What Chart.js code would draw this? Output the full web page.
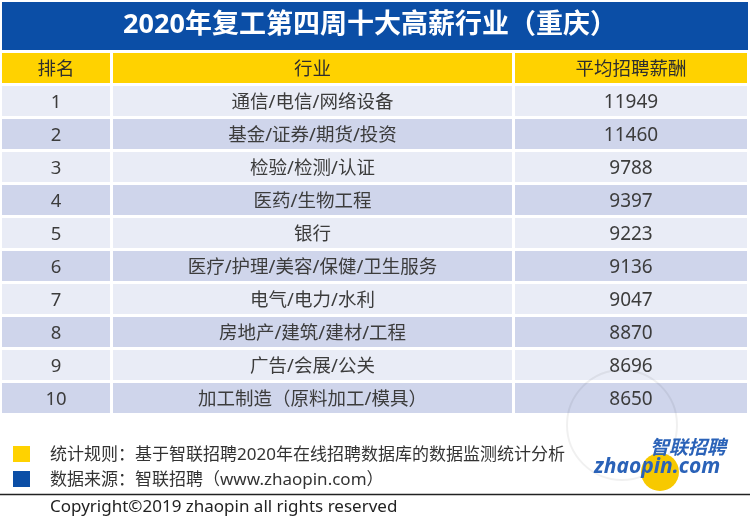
<!DOCTYPE html>
<html>
<head>
<meta charset="utf-8">
<script src="https://cdn.jsdelivr.net/npm/chart.js@4"></script>
<style>
  html, body { margin: 0; padding: 0; background: #fff; }
  #wrap { width: 750px; height: 524px; }
</style>
</head>
<body>
<div id="wrap"><canvas id="tbl"></canvas></div>
<script>
// 表格数据
const titleText = '2020年复工第四周十大高薪行业（重庆）';
const headers = ['排名', '行业', '平均招聘薪酬'];
const ranks = ['1', '2', '3', '4', '5', '6', '7', '8', '9', '10'];
const industries = ['通信/电信/网络设备', '基金/证券/期货/投资', '检验/检测/认证', '医药/生物工程', '银行',
    '医疗/护理/美容/保健/卫生服务', '电气/电力/水利', '房地产/建筑/建材/工程', '广告/会展/公关', '加工制造（原料加工/模具）'];
const salaries = [11949, 11460, 9788, 9397, 9223, 9136, 9047, 8870, 8696, 8650];
const notes = ['统计规则：基于智联招聘2020年在线招聘数据库的数据监测统计分析', '数据来源：智联招聘（www.zhaopin.com）'];
const copyright = 'Copyright©2019 zhaopin all rights reserved';

// 列的边界 (x 轴单位)
const colEdges = [[0, 108], [111, 510], [513, 745]];
const rowLabels = ['header'].concat(ranks);

const BLUE = '#0b4ea6';
const YELLOW = '#ffd200';
const FONT = '"Noto Sans", "Noto Sans CJK SC", sans-serif';

function rowColor(i) {
    if (i === 0) return YELLOW;
    return i % 2 === 1 ? '#e9ecf6' : '#cfd5eb';
}

const columns = [
    [headers[0]].concat(ranks),
    [headers[1]].concat(industries),
    [headers[2]].concat(salaries.map(String))
];

const datasets = colEdges.map((edge, c) => ({
    label: headers[c],
    data: rowLabels.map(() => edge),
    backgroundColor: rowLabels.map((_, i) => rowColor(i)),
    borderWidth: 0,
    grouped: false,
    barPercentage: 30 / 33,
    categoryPercentage: 1
}));

// 标题、单元格文字和页脚
const tablePlugin = {
    id: 'tableText',
    beforeDraw(chart) {
        const ctx = chart.ctx;
        ctx.save();
        ctx.fillStyle = BLUE;
        ctx.fillRect(2, 2, 746, 48);
        ctx.fillStyle = '#fff';
        ctx.font = 'bold 27px ' + FONT;
        ctx.textAlign = 'center';
        ctx.textBaseline = 'middle';
        ctx.fillText(titleText, 370, 25);
        ctx.restore();
    },
    afterDatasetsDraw(chart) {
        const ctx = chart.ctx;
        ctx.save();
        ctx.textAlign = 'center';
        ctx.textBaseline = 'middle';
        chart.data.datasets.forEach((ds, c) => {
            const meta = chart.getDatasetMeta(c);
            meta.data.forEach((bar, i) => {
                ctx.fillStyle = i === 0 ? '#2e2e2e' : '#3c3c3c';
                ctx.font = (c === 2 && i > 0 ? '19px ' : '18.5px ') + FONT;
                ctx.fillText(columns[c][i], (bar.x + bar.base) / 2, bar.y + 2);
            });
        });

        // 页脚
        ctx.fillStyle = YELLOW;
        ctx.fillRect(13, 446, 17, 16);
        ctx.fillStyle = BLUE;
        ctx.fillRect(13, 471, 17, 16);
        ctx.textAlign = 'left';
        ctx.fillStyle = '#333';
        ctx.font = '17px ' + FONT;
        ctx.fillText(notes[0], 50, 455);
        ctx.fillText(notes[1], 50, 480);

        ctx.strokeStyle = '#222';
        ctx.lineWidth = 1.5;
        ctx.beginPath();
        ctx.moveTo(0, 494.5);
        ctx.lineTo(750, 494.5);
        ctx.stroke();
        ctx.fillStyle = '#222';
        ctx.fillText(copyright, 50, 507);

        // 水印与标志
        ctx.strokeStyle = 'rgba(0,0,0,0.06)';
        ctx.lineWidth = 2;
        ctx.beginPath();
        ctx.arc(622, 425, 55, 0, Math.PI * 2);
        ctx.stroke();
        ctx.fillStyle = '#f7c900';
        ctx.beginPath();
        ctx.arc(660, 472, 19, 0, Math.PI * 2);
        ctx.fill();
        ctx.fillStyle = '#2a62b8';
        ctx.font = 'italic bold 21px ' + FONT;
        ctx.fillText('zhaopin.com', 594, 467);
        ctx.font = 'italic bold 19px ' + FONT;
        ctx.fillText('智联招聘', 650, 449);
        ctx.restore();
    }
};

new Chart(document.getElementById('tbl'), {
    type: 'bar',
    data: { labels: rowLabels, datasets: datasets },
    options: {
        indexAxis: 'y',
        responsive: true,
        maintainAspectRatio: false,
        animation: false,
        layout: { padding: { left: 2, right: 3, top: 51.5, bottom: 109.5 } },
        scales: {
            x: { type: 'linear', min: 0, max: 745, display: false },
            y: { type: 'category', display: false }
        },
        plugins: {
            legend: { display: false },
            tooltip: { enabled: false },
            title: { display: false }
        }
    },
    plugins: [tablePlugin]
});
</script>
</body>
</html>
